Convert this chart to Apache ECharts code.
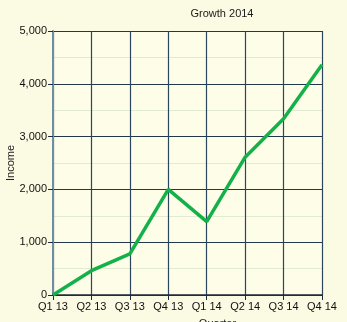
<!DOCTYPE html>
<html>
<head>
<meta charset="utf-8">
<script src="https://cdn.jsdelivr.net/npm/echarts@6/dist/echarts.min.js"></script>
<style>
  html, body { margin: 0; padding: 0; background: #fbfbe4; }
  #chart { width: 347px; height: 322px; }
</style>
</head>
<body>
<div id="chart"></div>
<script>
// Quarterly income, 2013-2014
const quarters = ['Q1 13', 'Q2 13', 'Q3 13', 'Q4 13', 'Q1 14', 'Q2 14', 'Q3 14', 'Q4 14'];
const income = [0, 460, 780, 2000, 1390, 2610, 3340, 4360];
const yTicks = [0, 1000, 2000, 3000, 4000, 5000];

const chart = echarts.init(document.getElementById('chart'));
chart.setOption({
  backgroundColor: '#fbfbe4',
  animation: false,
  title: {
    text: 'Growth 2014',
    left: 217, top: 3, textAlign: 'center',
    textStyle: { fontFamily: 'Liberation Sans', fontSize: 11, fontWeight: 'normal', color: '#1a1a1a' }
  },
  grid: {
    left: 53, right: 25, top: 31, bottom: 27,
    containLabel: false, outerBoundsMode: 'none',
    backgroundColor: '#fdfde8', show: true, borderWidth: 0
  },
  xAxis: {
    type: 'category',
    data: quarters,
    boundaryGap: false,
    name: 'Quarter',
    nameLocation: 'middle',
    nameGap: 23,
    nameMoveOverlap: false,
    nameTextStyle: {
      fontFamily: 'Liberation Sans', fontSize: 11, color: '#222',
      verticalAlign: 'top', padding: [0, 0, 0, 60]
    },
    axisLine: { lineStyle: { color: '#1c2a3a', width: 1.5 } },
    axisTick: { show: true, length: 5, lineStyle: { color: '#1c2a3a' } },
    axisLabel: { interval: 0, fontFamily: 'Liberation Sans', fontSize: 11, color: '#111', margin: 6 },
    splitLine: { show: true, interval: 0, lineStyle: { color: '#2d4660', width: 1.2 } }
  },
  yAxis: {
    type: 'value',
    min: yTicks[0], max: yTicks[yTicks.length - 1], interval: 1000,
    name: 'Income',
    nameLocation: 'middle',
    nameGap: 37,
    nameMoveOverlap: false,
    nameRotate: 90,
    nameTextStyle: { fontFamily: 'Liberation Sans', fontSize: 11, color: '#222' },
    axisLine: { show: true, lineStyle: { color: '#6f8ea3', width: 2 } },
    axisTick: { show: true, length: 5, lineStyle: { color: '#1c2a3a' } },
    axisLabel: {
      fontFamily: 'Liberation Sans', fontSize: 11, color: '#111', margin: 6,
      formatter: v => v.toLocaleString('en-US')
    },
    splitLine: { show: true, lineStyle: { color: '#22364c', width: 1.2 } },
    minorTick: { show: false, splitNumber: 2 },
    minorSplitLine: { show: true, lineStyle: { color: '#e2ead2', width: 1 } }
  },
  series: [{
    type: 'line',
    data: income,
    symbol: 'none',
    lineStyle: { color: '#14b14b', width: 3.5 },
    z: 5
  }]
});
</script>
</body>
</html>
